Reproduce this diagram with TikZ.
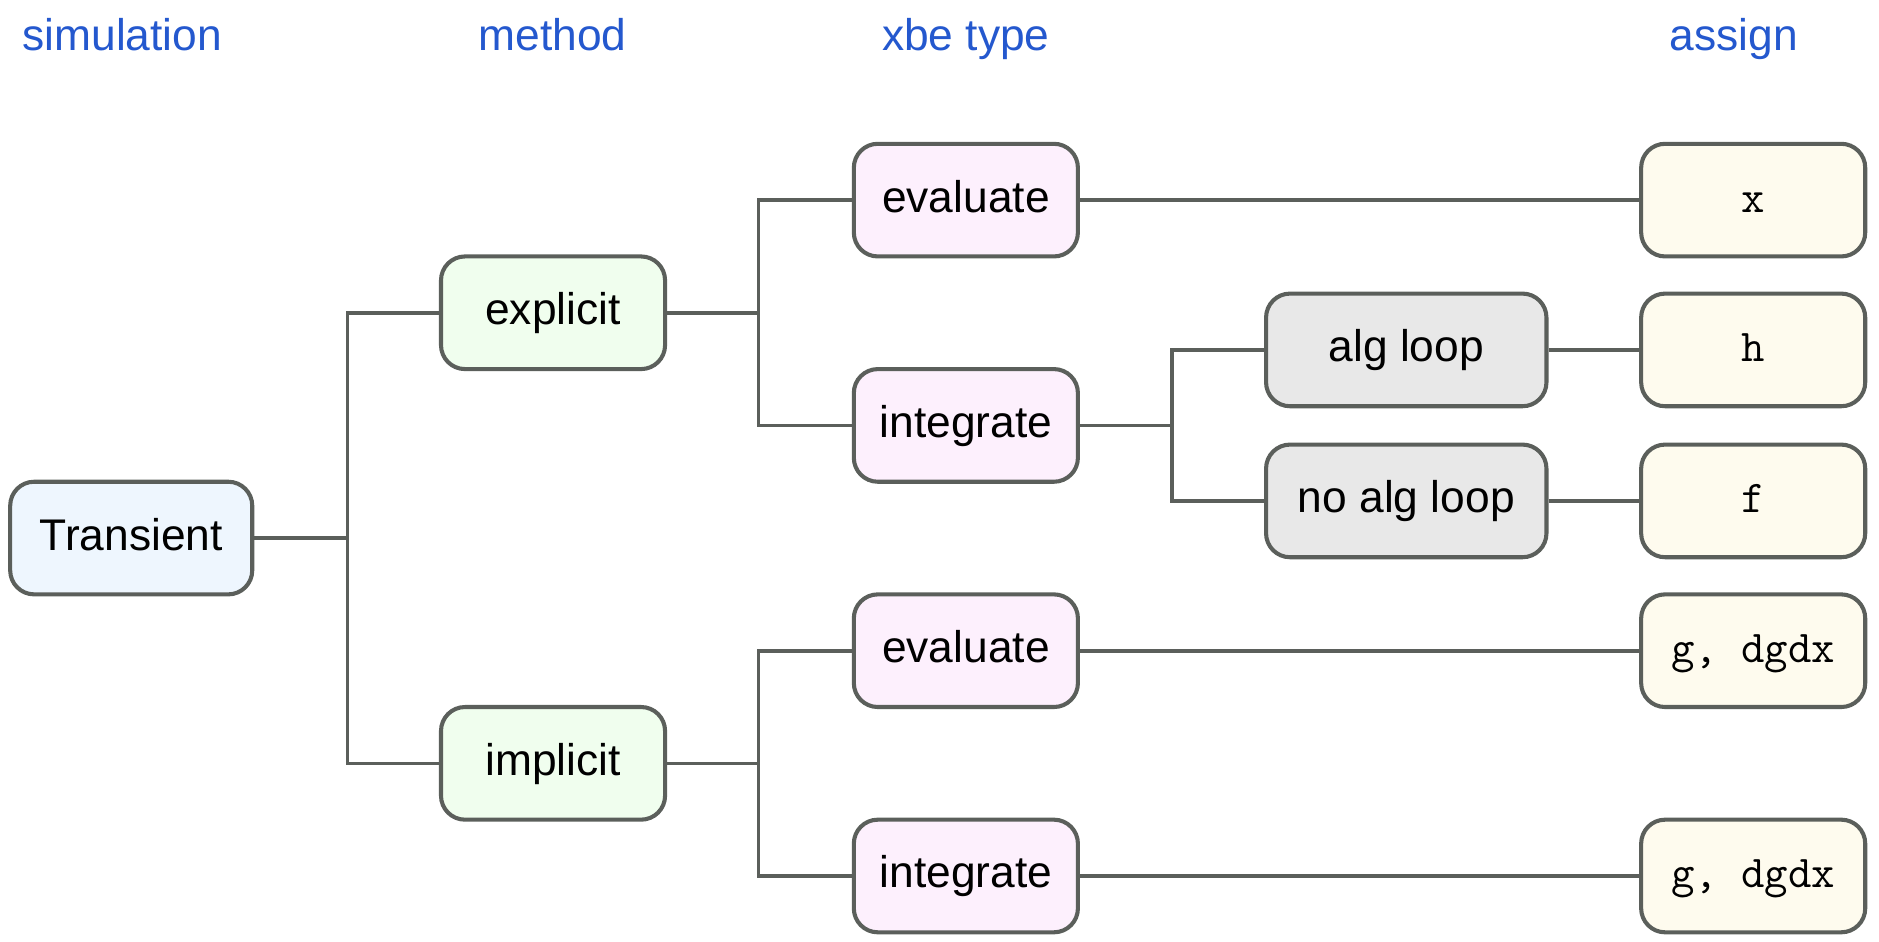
\documentclass[tikz,border=0pt]{standalone}
\usepackage{fontspec}
\setmainfont{Liberation Sans}
\usepackage{tikz}
\usetikzlibrary{positioning}

\definecolor{edgegray}{RGB}{91,95,91}
\definecolor{headblue}{RGB}{36,88,206}
\definecolor{simfill}{RGB}{238,246,254}
\definecolor{methfill}{RGB}{240,254,238}
\definecolor{xbefill}{RGB}{253,240,253}
\definecolor{loopfill}{RGB}{232,232,232}
\definecolor{assignfill}{RGB}{254,251,238}

\tikzset{
  head/.style={headblue,anchor=base,font=\fontsize{18.5}{22}\selectfont},
  box/.style={draw=edgegray,line width=1.7pt,rounded corners=10pt,inner sep=0pt,
    minimum width=93.5pt,minimum height=47pt,text height=13pt,text depth=3pt,
    font=\fontsize{18.5}{22}\selectfont},
  simbox/.style={box,fill=simfill,minimum width=101pt},
  methbox/.style={box,fill=methfill},
  xbebox/.style={box,fill=xbefill},
  loopbox/.style={box,fill=loopfill,minimum width=117pt},
  assignbox/.style={box,fill=assignfill,font=\fontsize{19}{22}\selectfont},
  link/.style={draw=edgegray,line width=1.5pt}
}

\begin{document}
\begin{tikzpicture}[x=0.5pt,y=-0.5pt]
  \useasboundingbox (0,0) rectangle (1568,786);

	%column titles
    \foreach \x/\txt in {102/simulation,461/method,806/xbe type,1447/assign}{
        \node[head] (h\x) at (\x,42) {\txt};
    }

	%boxes
    \node[simbox] (trans) at (109.5,449) {Transient};

    \foreach \y/\txt/\name in {261/explicit/expl,637/implicit/impl}{
        \node[methbox] (\name) at (461.5,\y) {\txt};
    }

    \foreach \y/\txt/\name in {167/evaluate/evA,355/integrate/inA,543/evaluate/evB,731/integrate/inB}{
        \node[xbebox] (\name) at (806,\y) {\txt};
    }

    \foreach \y/\txt/\name in {292/alg loop/alg,418/no alg loop/noalg}{
        \node[loopbox] (\name) at (1173.5,\y) {\txt};
    }

    \foreach \y/\txt/\name in {167/x/asX,292/h/asH,418/f/asF,543/{g, dgdx}/asG,731/{g, dgdx}/asGG}{
        \node[assignbox] (\name) at (1463,\y) {\texttt{\txt}};
    }

	%tree lines
    \coordinate (j1) at (290,449);
    \coordinate (j2) at (633,261);
    \coordinate (j3) at (633,637);
    \coordinate (j4) at (978,355);

    \draw[link] (trans) -- (j1);
    \draw[link] (expl) -| (j1) |- (impl);
    \draw[link] (expl) -- (j2);
    \draw[link] (evA) -| (j2) |- (inA);
    \draw[link] (impl) -- (j3);
    \draw[link] (evB) -| (j3) |- (inB);
    \draw[link] (inA) -- (j4);
    \draw[link] (alg) -| (j4) |- (noalg);

    \draw[link] (evA) -- (asX);
    \draw[link] (alg) -- (asH);
    \draw[link] (noalg) -- (asF);
    \draw[link] (evB) -- (asG);
    \draw[link] (inB) -- (asGG);

\end{tikzpicture}
\end{document}
